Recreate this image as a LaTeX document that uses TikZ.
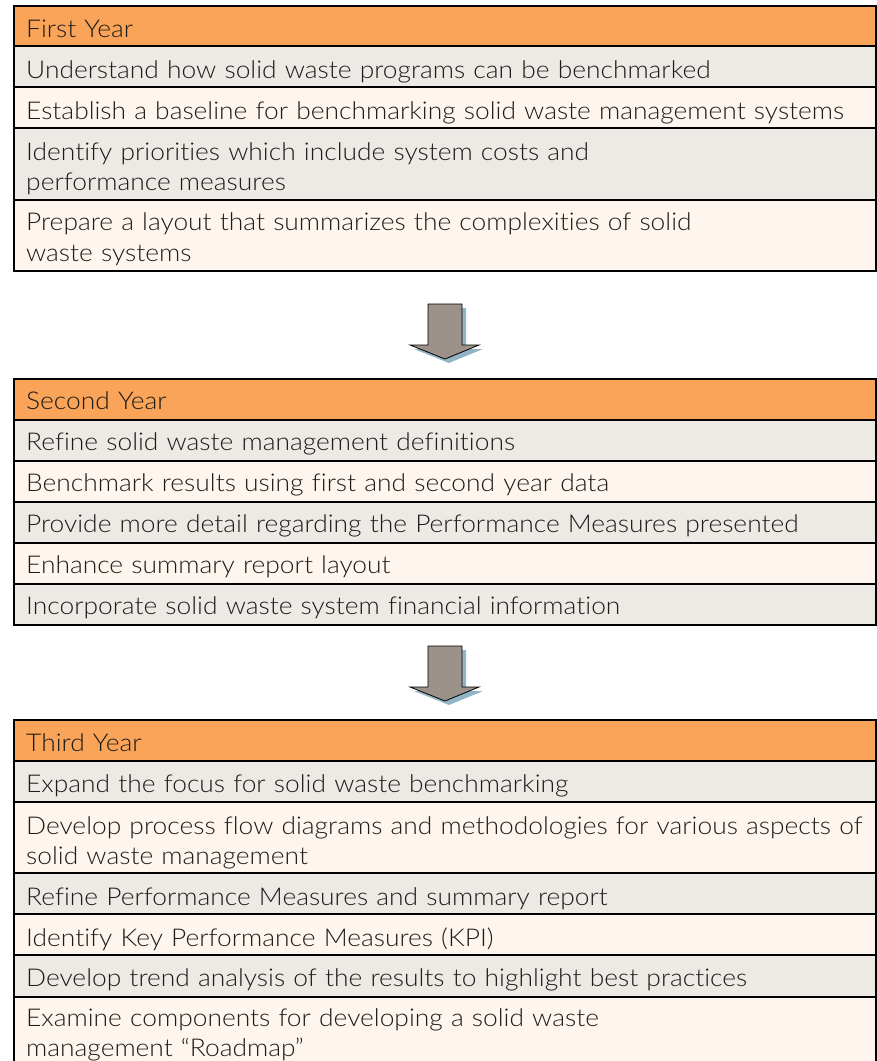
\documentclass[tikz,border=0pt]{standalone}
\usepackage{fontspec}
\IfFontExistsTF{Lato Light}
  {\setmainfont[Ligatures=NoCommon,FakeStretch=1.076]{Lato Light}}
  {\setmainfont[Ligatures=NoCommon,FakeStretch=1.076]{Lato}}
\definecolor{hdrfill}{HTML}{F9A458}
\definecolor{rowgrey}{HTML}{EDEAE5}
\definecolor{rowcream}{HTML}{FEF6EE}
\definecolor{arrowbody}{HTML}{9C928A}
\definecolor{arrowshade}{HTML}{92B5C6}
\definecolor{inktext}{HTML}{1E1C1A}
\begin{document}
\begin{tikzpicture}[x=1pt,y=-1pt,
  cell/.style={draw=black, line width=2.2pt, outer sep=0pt, inner sep=0pt,
    anchor=north west, minimum width=862pt},
  hdr/.style={cell, fill=hdrfill},
  grey/.style={cell, fill=rowgrey},
  cream/.style={cell, fill=rowcream},
  txt/.style={anchor=base west, inner sep=0pt, text=inktext, align=left,
    text width=850pt, font=\fontsize{24.5}{30.5}\selectfont},
  blockarrow/.style={draw=black, line width=0.8pt, fill=arrowbody, line join=miter},
  arrowshadow/.style={fill=arrowshade, draw=none}]
\useasboundingbox (0,0) rectangle (877,1061);
\begin{scope}
\clip (0,0) rectangle (877,1061);

% ---------- first year ----------
\node[hdr,   minimum height=40pt] (a0) at (14,6)   {};
\node[grey,  minimum height=41pt] (a1) at (14,46)  {};
\node[cream, minimum height=41pt] (a2) at (14,87)  {};
\node[grey,  minimum height=72pt] (a3) at (14,128) {};
\node[cream, minimum height=71pt] (a4) at (14,200) {};
\node[txt] (ta0) at (26,37.5)  {First Year};
\node[txt] (ta1) at (26,78)  {Understand how solid waste programs can be benchmarked};
\node[txt] (ta2) at (26,119) {Establish a baseline for benchmarking solid waste management systems};
\node[txt] (ta3) at (26,160) {Identify priorities which include system costs and\\performance measures};
\node[txt] (ta4) at (26,230.5) {Prepare a layout that summarizes the complexities of solid\\waste systems};

% ---------- second year ----------
\node[hdr,   minimum height=41pt] (b0) at (14,379) {};
\node[grey,  minimum height=41pt] (b1) at (14,420) {};
\node[cream, minimum height=41pt] (b2) at (14,461) {};
\node[grey,  minimum height=41pt] (b3) at (14,502) {};
\node[cream, minimum height=41pt] (b4) at (14,543) {};
\node[grey,  minimum height=41pt] (b5) at (14,584) {};
\node[txt] (tb0) at (26,409.5) {Second Year};
\node[txt] (tb1) at (26,450) {Refine solid waste management definitions};
\node[txt] (tb2) at (26,491) {Benchmark results using first and second year data};
\node[txt] (tb3) at (26,532) {Provide more detail regarding the Performance Measures presented};
\node[txt] (tb4) at (26,573) {Enhance summary report layout};
\node[txt] (tb5) at (26,614) {Incorporate solid waste system financial information};

% ---------- third year ----------
\node[hdr,   minimum height=41pt] (c0) at (14,720) {};
\node[grey,  minimum height=41pt] (c1) at (14,761) {};
\node[cream, minimum height=71pt] (c2) at (14,802) {};
\node[grey,  minimum height=41pt] (c3) at (14,873) {};
\node[cream, minimum height=41pt] (c4) at (14,914) {};
\node[grey,  minimum height=42pt] (c5) at (14,955) {};
\node[cream, minimum height=75pt] (c6) at (14,997) {};
\node[txt] (tc0) at (26,751)  {Third Year};
\node[txt] (tc1) at (26,792)  {Expand the focus for solid waste benchmarking};
\node[txt] (tc2) at (26,834)  {Develop process flow diagrams and methodologies for various aspects of\\solid waste management};
\node[txt] (tc3) at (26,905)  {Refine Performance Measures and summary report};
\node[txt] (tc4) at (26,946)  {Identify Key Performance Measures (KPI)};
\node[txt] (tc5) at (26,986)  {Develop trend analysis of the results to highlight best practices};
\node[txt] (tc6) at (26,1026) {Examine components for developing a solid waste\\management “Roadmap”};

% ---------- block arrows between the years ----------
\foreach \top/\nm in {304/ab, 646/bc}{
  \coordinate (\nm) at (445,\top);
  \fill[arrowshadow] ([xshift=4pt,yshift=-4pt]\nm) ++(-17,0) -- ++(34,0) -- ++(0,41)
     -- ++(17,0) -- ++(-34,14) -- ++(-35,-14) -- ++(18,0) -- cycle;
  \draw[blockarrow] (\nm) ++(-17,0) -- ++(34,0) -- ++(0,41)
     -- ++(17,0) -- ++(-34,14) -- ++(-35,-14) -- ++(18,0) -- cycle;
}
\end{scope}
\end{tikzpicture}
\end{document}
